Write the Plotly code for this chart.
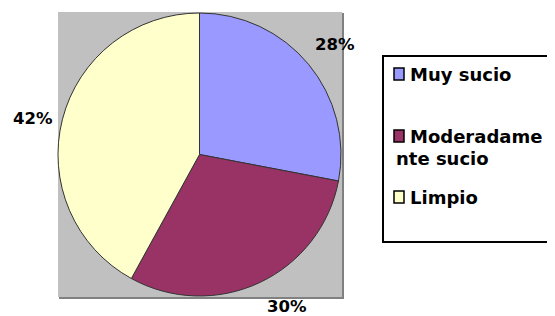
import plotly.graph_objects as go

labels = ["Muy sucio", "Moderadamente sucio", "Limpio"]
legend_lines = [["Muy sucio"], ["Moderadame", "nte sucio"], ["Limpio"]]
values = [28, 30, 42]
colors = ["#9999FF", "#993366", "#FFFFCC"]

OFF = 8  # page body margin
W, H = 555 - OFF, 316 - OFF

def px(x):
    return (x - OFF) / W

def py(y):
    return 1 - (y - OFF) / H

fig = go.Figure()
fig.add_trace(go.Pie(
    labels=labels, values=values, sort=False, direction="clockwise", rotation=0,
    marker=dict(colors=colors, line=dict(color="#333333", width=1)),
    textinfo="none", hoverinfo="label+percent", showlegend=False,
    domain=dict(x=[px(58), px(341)], y=[py(296), py(13)]),
))

shapes = [
    dict(type="rect", xref="paper", yref="paper", x0=px(59), x1=px(344), y0=py(299), y1=py(13),
         fillcolor="#808080", line=dict(width=0), layer="below"),
    dict(type="rect", xref="paper", yref="paper", x0=px(58), x1=px(342), y0=py(297), y1=py(12),
         fillcolor="#C0C0C0", line=dict(width=0), layer="below"),
    dict(type="rect", xref="paper", yref="paper", x0=px(383), x1=px(560), y0=py(242), y1=py(56),
         fillcolor="white", line=dict(color="black", width=2)),
]

total = sum(values)
pct = [round(v * 100 / total) for v in values]
label_pos = [(335, 44), (287, 306), (33, 118)]
annotations = []
for p, (x, y) in zip(pct, label_pos):
    annotations.append(dict(x=px(x), y=py(y), xref="paper", yref="paper", text=f"<b>{p}%</b>",
                            showarrow=False, font=dict(family="DejaVu Sans", size=16.5, color="black"),
                            xanchor="center", yanchor="middle"))

legend_y = [[74], [136, 158], [197]]
for lines, c, ys in zip(legend_lines, colors, legend_y):
    sy = ys[0]
    shapes.append(dict(type="rect", xref="paper", yref="paper", x0=px(394), x1=px(404),
                       y0=py(sy + 6), y1=py(sy - 6), fillcolor=c, line=dict(color="black", width=1.5)))
    for i, (txt, y) in enumerate(zip(lines, ys)):
        annotations.append(dict(x=px(408 if i == 0 else 394), y=py(y), xref="paper", yref="paper",
                                text=f"<b>{txt}</b>", showarrow=False, align="left",
                                xanchor="left", yanchor="middle",
                                font=dict(family="DejaVu Sans", size=18, color="black")))

fig.update_layout(
    width=W, height=H, margin=dict(l=0, r=0, t=0, b=0),
    paper_bgcolor="white", plot_bgcolor="white",
    shapes=shapes, annotations=annotations, showlegend=False,
)

fig.write_html("out.html")
